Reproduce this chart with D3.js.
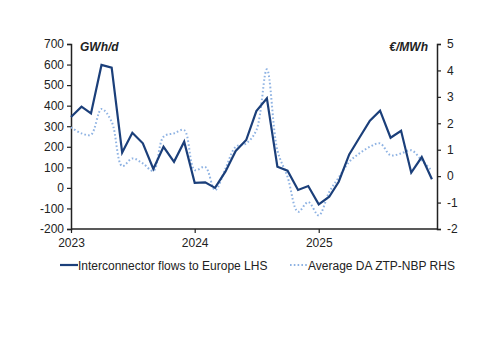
<!DOCTYPE html>
<html><head><meta charset="utf-8">
<script src="https://cdn.jsdelivr.net/npm/d3@7"></script>
<style>body{margin:0;background:#fff}svg{display:block}text{font-family:"Liberation Sans",Arial,sans-serif;fill:#222}</style>
</head><body><svg id="c" width="500" height="353"></svg>
<script>
const months = d3.range(36).map(i => new Date(2023, i, 1));
const flows = [345,395,362,598,585,172,268,217,92,200,127,225,25,27,0,80,180,233,374,436,103,84,-10,9,-80,-43,30,163,244,327,376,244,278,74,150,42];
const spread = [1.85,1.62,1.57,2.54,2.06,0.38,0.67,0.48,0.2,1.49,1.62,1.74,0.23,0.35,-0.53,0.29,1.11,1.24,1.74,4.04,0.98,-0.03,-1.35,-0.98,-1.48,-0.6,-0.05,0.54,0.86,1.11,1.24,0.79,0.86,0.98,0.6,0.2];
const leftTicks = [-200,-100,0,100,200,300,400,500,600,700];
const rightTicks = [-2,-1,0,1,2,3,4,5];
const yearTicks = [new Date(2023,0,1), new Date(2024,0,1), new Date(2025,0,1)];
const seriesNames = ["Interconnector flows to Europe LHS", "Average DA ZTP-NBP RHS"];

const svg = d3.select("#c");
const L = 71, R = 437, T = 44, B = 229;
const x = d3.scaleTime().domain([new Date(2023,0,1), new Date(2025,11,16)]).range([L, R]);
const yL = d3.scaleLinear().domain([-200, 700]).range([B, T]);
const yR = d3.scaleLinear().domain([-2, 5]).range([B, T]);
const dark = "#1b3f7a", light = "#8fb3e3";

const axL = svg.append("g").attr("transform", `translate(${L},0)`)
  .call(d3.axisLeft(yL).tickValues(leftTicks).tickSize(4).tickPadding(3).tickFormat(d => d < 0 ? "-" + Math.abs(d) : d));
const axR = svg.append("g").attr("transform", `translate(${R},0)`)
  .call(d3.axisRight(yR).tickValues(rightTicks).tickSize(4).tickPadding(6).tickFormat(d => d < 0 ? "-" + Math.abs(d) : d));
const axB = svg.append("g").attr("transform", `translate(0,${B})`)
  .call(d3.axisBottom(x).tickValues(yearTicks).tickSize(4).tickPadding(5).tickFormat(d3.timeFormat("%Y")));
[axL, axR, axB].forEach(a => {
  a.select(".domain").attr("stroke", "#222").attr("stroke-width", 1.5);
  a.selectAll(".tick line").attr("stroke", "#222").attr("stroke-width", 1.2);
  a.selectAll("text").style("font-size", "12px").attr("fill", "#222");
});
axB.select(".domain").attr("d", `M${L},0H${R}`);

svg.append("path").datum(spread)
  .attr("fill", "none").attr("stroke", light).attr("stroke-width", 2).attr("stroke-dasharray", "1.6,2.2")
  .attr("d", d3.line().x((d, i) => x(months[i])).y(d => yR(d)).curve(d3.curveCatmullRom.alpha(0.5)));
svg.append("path").datum(flows)
  .attr("fill", "none").attr("stroke", dark).attr("stroke-width", 2.2).attr("stroke-linejoin", "miter")
  .attr("d", d3.line().x((d, i) => x(months[i])).y(d => yL(d)));

svg.append("text").attr("x", 80).attr("y", 51).style("font-size", "12px").style("font-weight", "bold").style("font-style", "italic").text("GWh/d");
svg.append("text").attr("x", 428).attr("y", 51).attr("text-anchor", "end").style("font-size", "12px").style("font-weight", "bold").style("font-style", "italic").text("€/MWh");

const lg = svg.append("g");
lg.append("line").attr("x1", 60).attr("x2", 78).attr("y1", 265).attr("y2", 265).attr("stroke", dark).attr("stroke-width", 2.2);
lg.append("text").attr("x", 78).attr("y", 269.5).style("font-size", "12px").text(seriesNames[0]);
lg.append("line").attr("x1", 290).attr("x2", 308).attr("y1", 265).attr("y2", 265).attr("stroke", light).attr("stroke-width", 2).attr("stroke-dasharray", "1.6,2.2");
lg.append("text").attr("x", 308).attr("y", 269.5).style("font-size", "12px").text(seriesNames[1]);
</script></body></html>
